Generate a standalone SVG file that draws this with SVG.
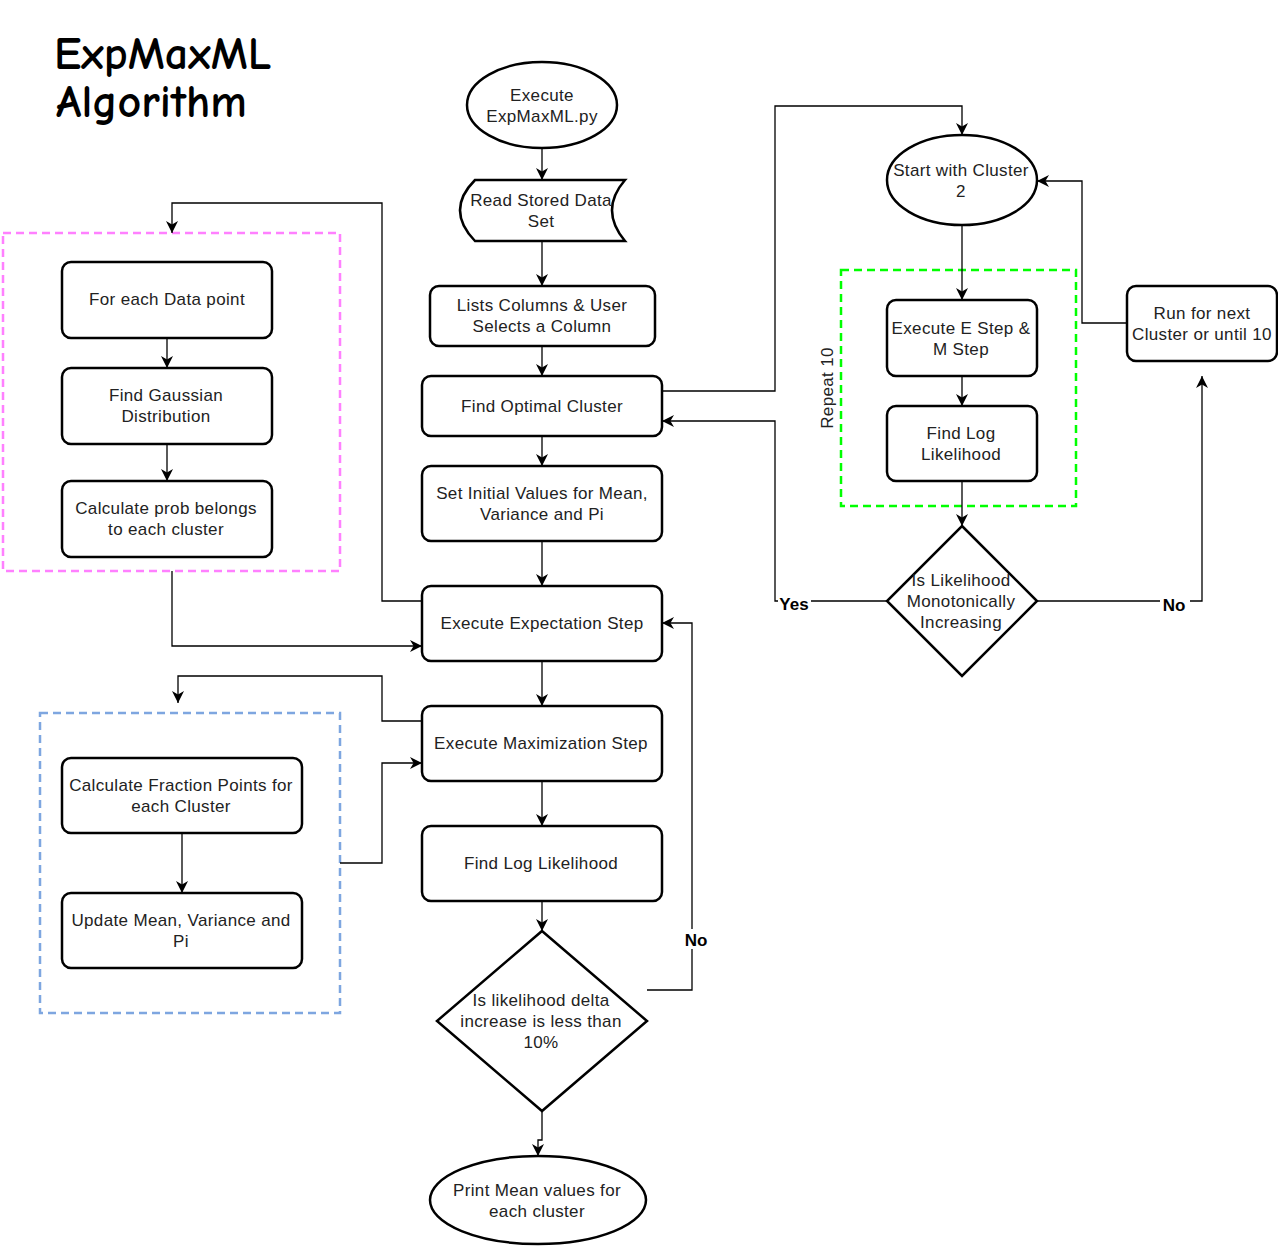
<svg xmlns="http://www.w3.org/2000/svg" width="1278" height="1247" viewBox="0 0 1278 1247">
<defs>
<marker id="arr" markerUnits="userSpaceOnUse" markerWidth="12" markerHeight="12" refX="10" refY="5" orient="auto" viewBox="0 0 10 10">
<path d="M0,0 L10,5 L0,10 L3,5 Z" fill="#000"/>
</marker>
<style>
.n{fill:#fff;stroke:#000;stroke-width:2.5}
.t{font-family:"Liberation Sans",Arial,sans-serif;font-size:17px;letter-spacing:0.35px;fill:#222;text-anchor:middle}
.l{font-family:"Liberation Sans",Arial,sans-serif;font-size:17px;font-weight:bold;fill:#000;text-anchor:middle}
.c{fill:none;stroke:#000;stroke-width:1.3}
.ca{fill:none;stroke:#000;stroke-width:1.3;marker-end:url(#arr)}
.title{font-family:"Comic Sans MS","Comic Neue","DejaVu Sans",sans-serif;font-size:46px;font-weight:bold;fill:#000}
</style>
</defs>
<rect width="1278" height="1247" fill="#fff"/>

<g id="title">
<text class="title" x="54" y="69">ExpMaxML</text>
<text class="title" x="56" y="117">Algorithm</text>
</g>

<g id="groups">
<rect id="pink-box" x="3" y="233" width="337" height="338" fill="none" stroke="#FF80FF" stroke-width="2.5" stroke-dasharray="8,5"/>
<rect id="blue-box" x="40" y="713" width="300" height="300" fill="none" stroke="#7EA6E0" stroke-width="2.5" stroke-dasharray="8,5"/>
<rect id="green-box" x="841" y="270" width="235" height="236" fill="none" stroke="#00FF00" stroke-width="2.5" stroke-dasharray="8,5"/>
<text class="t" x="0" y="0" transform="translate(833,388) rotate(-90)">Repeat 10</text>
</g>

<g id="connectors">
<path class="ca" d="M542,148 V180"/>
<path class="ca" d="M542,241 V286"/>
<path class="ca" d="M542,346 V376"/>
<path class="ca" d="M542,436 V466"/>
<path class="ca" d="M542,541 V586"/>
<path class="ca" d="M542,661 V706"/>
<path class="ca" d="M542,781 V826"/>
<path class="ca" d="M542,901 V931"/>
<path class="ca" d="M542,1111 V1140 H538 V1156"/>
<path class="ca" d="M647,990 H692 V623 H662"/>
<rect x="682" y="929" width="28" height="20" fill="#fff"/>
<text class="l" x="696" y="946">No</text>
<path class="ca" d="M662,391 H775 V106 H962 V135"/>
<path class="ca" d="M962,226 V300"/>
<path class="ca" d="M962,376 V406"/>
<path class="ca" d="M962,481 V526"/>
<path class="ca" d="M887,601 H775 V421 H662"/>
<rect x="778" y="593" width="33" height="18" fill="#fff"/>
<text class="l" x="794" y="610">Yes</text>
<path class="ca" d="M1037,601 H1202 V376"/>
<rect x="1160" y="594" width="30" height="18" fill="#fff"/>
<text class="l" x="1174" y="611">No</text>
<path class="ca" d="M1127,323 H1082 V181 H1037"/>
<path class="ca" d="M422,601 H382 V203 H172 V233"/>
<path class="ca" d="M172,571 V646 H422"/>
<path class="ca" d="M167,338 V368"/>
<path class="ca" d="M167,444 V481"/>
<path class="ca" d="M422,721 H382 V676 H178 V703"/>
<path class="ca" d="M340,863 H382 V763 H422"/>
<path class="ca" d="M182,833 V893"/>
</g>

<g id="n-execute">
<ellipse class="n" cx="542" cy="105" rx="75" ry="43"/>
<text class="t" x="542" y="101">Execute</text>
<text class="t" x="542" y="122">ExpMaxML.py</text>
</g>
<g id="n-read">
<path class="n" d="M475,180 H625 Q599,210 625,241 H475 Q445,210 475,180 Z"/>
<text class="t" x="541" y="206">Read Stored Data</text>
<text class="t" x="541" y="227">Set</text>
</g>
<g id="n-lists">
<rect class="n" x="430" y="286" width="225" height="60" rx="9"/>
<text class="t" x="542" y="311">Lists Columns &amp; User</text>
<text class="t" x="542" y="332">Selects a Column</text>
</g>
<g id="n-optimal">
<rect class="n" x="422" y="376" width="240" height="60" rx="9"/>
<text class="t" x="542" y="412">Find Optimal Cluster</text>
</g>
<g id="n-initial">
<rect class="n" x="422" y="466" width="240" height="75" rx="9"/>
<text class="t" x="542" y="499">Set Initial Values for Mean,</text>
<text class="t" x="542" y="520">Variance and Pi</text>
</g>
<g id="n-expectation">
<rect class="n" x="422" y="586" width="240" height="75" rx="9"/>
<text class="t" x="542" y="629">Execute Expectation Step</text>
</g>
<g id="n-maximization">
<rect class="n" x="422" y="706" width="240" height="75" rx="9"/>
<text class="t" x="541" y="749">Execute Maximization Step</text>
</g>
<g id="n-loglik">
<rect class="n" x="422" y="826" width="240" height="75" rx="9"/>
<text class="t" x="541" y="869">Find Log Likelihood</text>
</g>
<g id="n-delta">
<path class="n" d="M542,931 L647,1021 L542,1111 L437,1021 Z"/>
<text class="t" x="541" y="1006">Is likelihood delta</text>
<text class="t" x="541" y="1027">increase is less than</text>
<text class="t" x="541" y="1048">10%</text>
</g>
<g id="n-print">
<ellipse class="n" cx="538" cy="1200" rx="108" ry="44"/>
<text class="t" x="537" y="1196">Print Mean values for</text>
<text class="t" x="537" y="1217">each cluster</text>
</g>

<g id="n-foreach">
<rect class="n" x="62" y="262" width="210" height="76" rx="9"/>
<text class="t" x="167" y="305">For each Data point</text>
</g>
<g id="n-gaussian">
<rect class="n" x="62" y="368" width="210" height="76" rx="9"/>
<text class="t" x="166" y="401">Find Gaussian</text>
<text class="t" x="166" y="422">Distribution</text>
</g>
<g id="n-prob">
<rect class="n" x="62" y="481" width="210" height="76" rx="9"/>
<text class="t" x="166" y="514">Calculate prob belongs</text>
<text class="t" x="166" y="535">to each cluster</text>
</g>
<g id="n-fraction">
<rect class="n" x="62" y="758" width="240" height="75" rx="9"/>
<text class="t" x="181" y="791">Calculate Fraction Points for</text>
<text class="t" x="181" y="812">each Cluster</text>
</g>
<g id="n-update">
<rect class="n" x="62" y="893" width="240" height="75" rx="9"/>
<text class="t" x="181" y="926">Update Mean, Variance and</text>
<text class="t" x="181" y="947">Pi</text>
</g>

<g id="n-start">
<ellipse class="n" cx="962" cy="180" rx="75" ry="45"/>
<text class="t" x="961" y="176">Start with Cluster</text>
<text class="t" x="961" y="197">2</text>
</g>
<g id="n-estep">
<rect class="n" x="887" y="300" width="150" height="76" rx="9"/>
<text class="t" x="961" y="334">Execute E Step &amp;</text>
<text class="t" x="961" y="355">M Step</text>
</g>
<g id="n-loglik2">
<rect class="n" x="887" y="406" width="150" height="75" rx="9"/>
<text class="t" x="961" y="439">Find Log</text>
<text class="t" x="961" y="460">Likelihood</text>
</g>
<g id="n-mono">
<path class="n" d="M962,526 L1037,601 L962,676 L887,601 Z"/>
<text class="t" x="961" y="586">Is Likelihood</text>
<text class="t" x="961" y="607">Monotonically</text>
<text class="t" x="961" y="628">Increasing</text>
</g>
<g id="n-next">
<rect class="n" x="1127" y="286" width="150" height="75" rx="9"/>
<text class="t" x="1202" y="319">Run for next</text>
<text class="t" x="1202" y="340">Cluster or until 10</text>
</g>
</svg>
